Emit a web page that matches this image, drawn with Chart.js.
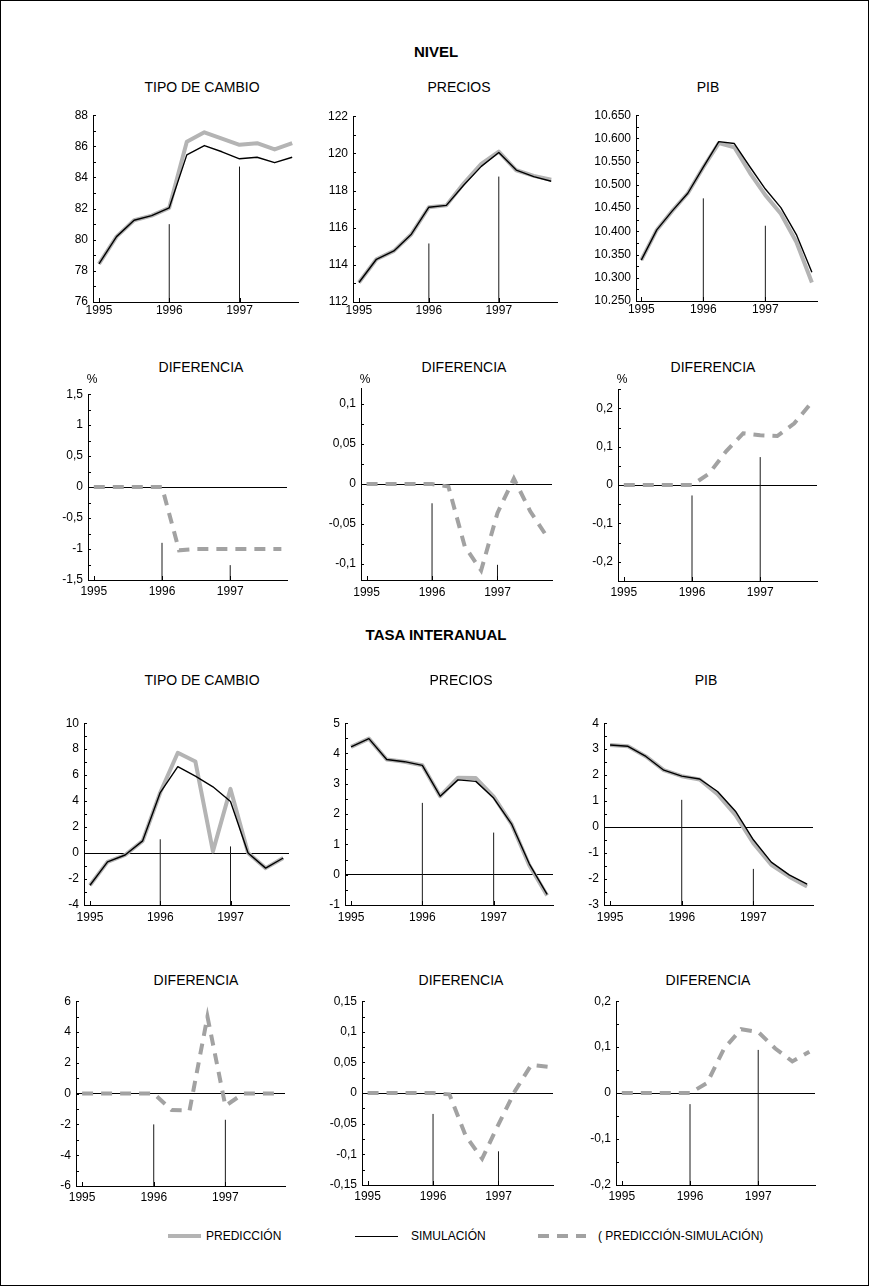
<!DOCTYPE html>
<html lang="es">
<head>
<meta charset="utf-8">
<script src="https://cdn.jsdelivr.net/npm/chart.js@4.4.1/dist/chart.umd.min.js"></script>
<style>
html,body{margin:0;padding:0;background:#fff;}
#hoja{position:relative;width:869px;height:1286px;overflow:hidden;background:#fff;
  font-family:"Liberation Sans",Arial,Helvetica,sans-serif;color:#000;}
#marco{position:absolute;left:0;top:0;width:869px;height:1286px;box-sizing:border-box;border:1px solid #000;pointer-events:none;}
.txt{position:absolute;transform:translate(-50%,-50%);white-space:nowrap;line-height:1;}
.izq{position:absolute;transform:translate(0,-50%);white-space:nowrap;line-height:1;font-size:12px;}
.tit{font-size:14px;}
.sec{font-size:15px;font-weight:bold;}
.pct{font-size:12px;}
canvas{position:absolute;}
.raya{position:absolute;}
</style>
</head>
<body>
<div id="hoja"><div id="marco"></div></div>
<script>
// Trimestres 1995-I a 1997-IV (posición 0..11 en el eje horizontal)
const trimestres = ['1995-I','1995-II','1995-III','1995-IV','1996-I','1996-II','1996-III','1996-IV','1997-I','1997-II','1997-III','1997-IV'];
const anios = ['1995','1996','1997'];
const posAnios = [0, 4, 8];

// ---- NIVEL ----
const tcNivelPred  = [78.45, 80.2, 81.25, 81.55, 82.05, 86.3, 86.9, 86.5, 86.1, 86.2, 85.8, 86.2];
const tcNivelSim   = [78.45, 80.2, 81.25, 81.55, 82.05, 85.45, 86.05, 85.65, 85.2, 85.3, 84.95, 85.3];
const preNivelPred = [113.05, 114.3, 114.75, 115.65, 117.1, 117.2, 118.39, 119.43, 120.09, 119.09, 118.79, 118.58];
const preNivelSim  = [113.05, 114.3, 114.75, 115.65, 117.1, 117.2, 118.3, 119.3, 120.05, 119.1, 118.75, 118.5];
const pibNivelPred = [10338, 10403, 10444, 10482, 10538, 10590, 10581, 10526, 10478, 10438, 10377, 10290];
const pibNivelSim  = [10338, 10403, 10444, 10482, 10538, 10593, 10589, 10539, 10491, 10451, 10393, 10312];
const tcNivelDif   = [0, 0, 0, 0, 0, -1.02, -1.0, -1.0, -1.0, -1.0, -1.0, -1.0];
const preNivelDif  = [0, 0, 0, 0, 0, -0.003, -0.078, -0.108, -0.036, 0.007, -0.034, -0.065];
const pibNivelDif  = [0, 0, 0, 0, 0, 0.03, 0.088, 0.135, 0.13, 0.128, 0.161, 0.215];

// ---- TASA INTERANUAL ----
const tcTasaPred  = [-2.48, -0.68, -0.15, 0.94, 4.66, 7.72, 7.05, 0.13, 4.94, 0.0, -1.16, -0.38];
const tcTasaSim   = [-2.48, -0.68, -0.15, 0.94, 4.66, 6.65, 5.92, 5.1, 3.97, 0.0, -1.16, -0.38];
const preTasaPred = [4.22, 4.49, 3.8, 3.73, 3.61, 2.59, 3.2, 3.19, 2.58, 1.68, 0.31, -0.69];
const preTasaSim  = [4.22, 4.49, 3.8, 3.73, 3.61, 2.59, 3.13, 3.08, 2.53, 1.68, 0.36, -0.65];
const pibTasaPred = [3.16, 3.11, 2.72, 2.19, 1.96, 1.83, 1.27, 0.47, -0.62, -1.45, -1.91, -2.29];
const pibTasaSim  = [3.16, 3.11, 2.72, 2.19, 1.96, 1.85, 1.37, 0.61, -0.49, -1.35, -1.84, -2.2];
const tcTasaDif   = [0, 0, 0, 0, 0, -1.07, -1.1, 5.0, -0.8, 0, 0, 0];
const preTasaDif  = [0, 0, 0, 0, 0, -0.002, -0.07, -0.107, -0.051, 0.003, 0.046, 0.043];
const pibTasaDif  = [0, 0, 0, 0, 0, 0.022, 0.097, 0.139, 0.133, 0.097, 0.069, 0.09];

// Marcas verticales en 1996 y 1997 (altura alcanzada)
const tcNivelMarcas     = [81.0, 84.7];
const preNivelMarcas    = [115.15, 118.75];
const pibNivelMarcas    = [10471, 10412];
const tcNivelDifMarcas  = [-0.9, -1.26];
const preNivelDifMarcas = [-0.024, -0.101];
const pibNivelDifMarcas = [-0.027, 0.073];
const tcTasaMarcas      = [1.06, 0.51];
const preTasaMarcas     = [2.37, 1.39];
const pibTasaMarcas     = [1.05, -1.61];
const tcTasaDifMarcas   = [-2.0, -1.7];
const preTasaDifMarcas  = [-0.034, -0.095];
const pibTasaDifMarcas  = [-0.024, 0.094];

// Valores rotulados de cada eje vertical
const ejeTcNivel     = [76, 78, 80, 82, 84, 86, 88];
const ejePreNivel    = [112, 114, 116, 118, 120, 122];
const ejePibNivel    = [10250, 10300, 10350, 10400, 10450, 10500, 10550, 10600, 10650];
const ejeTcNivelDif  = [-1.5, -1, -0.5, 0, 0.5, 1, 1.5];
const ejePreNivelDif = [-0.1, -0.05, 0, 0.05, 0.1];
const ejePibNivelDif = [-0.2, -0.1, 0, 0.1, 0.2];
const ejeTcTasa      = [-4, -2, 0, 2, 4, 6, 8, 10];
const ejePreTasa     = [-1, 0, 1, 2, 3, 4, 5];
const ejePibTasa     = [-3, -2, -1, 0, 1, 2, 3, 4];
const ejeTcTasaDif   = [-6, -4, -2, 0, 2, 4, 6];
const ejePreTasaDif  = [-0.15, -0.1, -0.05, 0, 0.05, 0.1, 0.15];
const ejePibTasaDif  = [-0.2, -0.1, 0, 0.1, 0.2];

// ---------------------------------------------------------------
const XMIN = -0.34, XMAX = 11.33;
const PL = 48, PT = 10, PR = 10, PB = 26;
const GRIS = '#b4b4b4', GRIS_DIF = '#a2a2a2';

const fmtDec = v => { const r = Math.round(v * 1000) / 1000; return (r === 0 ? 0 : r).toString().replace('.', ','); };
const fmtMiles = v => (v / 1000).toFixed(3);

const paneles = [
  { caja: [93, 113, 298, 302], min: 76, max: 88, eje: ejeTcNivel, fmt: fmtDec, pred: tcNivelPred, sim: tcNivelSim, marcas: tcNivelMarcas, cero: false, padX: 1 },
  { caja: [353, 114, 557, 302], min: 112, max: 122, eje: ejePreNivel, fmt: fmtDec, pred: preNivelPred, sim: preNivelSim, marcas: preNivelMarcas, cero: false, padX: 1 },
  { caja: [636, 113, 817, 301], min: 10250, max: 10650, eje: ejePibNivel, fmt: fmtMiles, pred: pibNivelPred, sim: pibNivelSim, marcas: pibNivelMarcas, cero: false, padX: 1 },
  { caja: [88, 392, 287, 580], min: -1.5, max: 1.5, eje: ejeTcNivelDif, fmt: fmtDec, dif: tcNivelDif, marcas: tcNivelDifMarcas, cero: true, padX: 4 },
  { caja: [361, 386, 552, 580], min: -0.12, max: 0.12, eje: ejePreNivelDif, fmt: fmtDec, dif: preNivelDif, marcas: preNivelDifMarcas, cero: true, padX: 5 },
  { caja: [618, 387, 817, 581], min: -0.25, max: 0.25, eje: ejePibNivelDif, fmt: fmtDec, dif: pibNivelDif, marcas: pibNivelDifMarcas, cero: true, padX: 4 },
  { caja: [84, 721, 289, 905], min: -4, max: 10, eje: ejeTcTasa, fmt: fmtDec, pred: tcTasaPred, sim: tcTasaSim, marcas: tcTasaMarcas, cero: true, padX: 5 },
  { caja: [345, 721, 553, 905], min: -1, max: 5, eje: ejePreTasa, fmt: fmtDec, pred: preTasaPred, sim: preTasaSim, marcas: preTasaMarcas, cero: true, padX: 5 },
  { caja: [604, 721, 813, 905], min: -3, max: 4, eje: ejePibTasa, fmt: fmtDec, pred: pibTasaPred, sim: pibTasaSim, marcas: pibTasaMarcas, cero: true, padX: 5 },
  { caja: [76, 999, 285, 1186], min: -6, max: 6, eje: ejeTcTasaDif, fmt: fmtDec, dif: tcTasaDif, marcas: tcTasaDifMarcas, cero: true, padX: 4 },
  { caja: [362, 999, 553, 1185], min: -0.15, max: 0.15, eje: ejePreTasaDif, fmt: fmtDec, dif: preTasaDif, marcas: preTasaDifMarcas, cero: true, padX: 4 },
  { caja: [616, 999, 815, 1185], min: -0.2, max: 0.2, eje: ejePibTasaDif, fmt: fmtDec, dif: pibTasaDif, marcas: pibTasaDifMarcas, cero: true, padX: 4 }
];

// Pequeñas marcas de escala hacia el interior del área de trazado
const marcasEje = {
  id: 'marcasEje',
  afterDraw(chart) {
    const { ctx, chartArea: a, scales: { x, y } } = chart;
    ctx.save();
    ctx.strokeStyle = '#000';
    ctx.lineWidth = 1;
    ctx.beginPath();
    y.ticks.forEach(t => {
      const py = Math.round(y.getPixelForValue(t.value)) + 0.5;
      ctx.moveTo(a.left, py); ctx.lineTo(a.left + 3, py);
    });
    x.ticks.forEach(t => {
      const px = Math.round(x.getPixelForValue(t.value)) + 0.5;
      ctx.moveTo(px, a.bottom); ctx.lineTo(px, a.bottom - 4);
    });
    ctx.stroke();
    ctx.restore();
  }
};

const hoja = document.getElementById('hoja');
Chart.defaults.font.family = '"Liberation Sans", Arial, Helvetica, sans-serif';
Chart.defaults.color = '#000';

const aPuntos = arr => arr.map((v, i) => ({ x: i, y: v }));

paneles.forEach(p => {
  const [L, T, R, B] = p.caja;
  const cv = document.createElement('canvas');
  const w = R - L + PL + PR, h = B - T + PT + PB;
  cv.width = w; cv.height = h;
  cv.style.left = (L - PL) + 'px';
  cv.style.top = (T - PT) + 'px';
  cv.style.width = w + 'px';
  cv.style.height = h + 'px';
  hoja.appendChild(cv);

  const datasets = [];
  if (p.sim) {
    datasets.push({ data: aPuntos(p.sim), borderColor: '#000', borderWidth: 1.4, pointRadius: 0, tension: 0, borderJoinStyle: 'round', order: 1 });
    datasets.push({ data: aPuntos(p.pred), borderColor: GRIS, borderWidth: 4, pointRadius: 0, tension: 0, borderJoinStyle: 'round', order: 2 });
  }
  if (p.dif) {
    datasets.push({ data: aPuntos(p.dif), borderColor: GRIS_DIF, borderWidth: 4, borderDash: [11, 8], borderCapStyle: 'butt', pointRadius: 0, tension: 0, order: 2 });
  }
  p.marcas.forEach((m, k) => {
    datasets.push({ data: [{ x: posAnios[k + 1], y: p.min }, { x: posAnios[k + 1], y: m }], borderColor: '#1a1a1a', borderWidth: 1, pointRadius: 0, order: 3 });
  });

  // marcas menores: puntos medios entre valores rotulados
  const paso = p.eje[1] - p.eje[0];
  const menores = [];
  for (let i = 0; i < p.eje.length - 1; i++) menores.push((p.eje[i] + p.eje[i + 1]) / 2);
  const extA = p.eje[0] - paso / 2, extB = p.eje[p.eje.length - 1] + paso / 2;
  if (extA >= p.min - 1e-9) menores.push(extA);
  if (extB <= p.max + 1e-9) menores.push(extB);
  const todos = p.eje.concat(menores).sort((a, b) => a - b);
  const rotulado = v => p.eje.some(m => Math.abs(m - v) < 1e-9);

  new Chart(cv, {
    type: 'line',
    data: { datasets },
    options: {
      responsive: false,
      animation: false,
      devicePixelRatio: 1,
      events: [],
      layout: { padding: { top: PT, right: PR, left: 0, bottom: 0 } },
      plugins: { legend: { display: false }, tooltip: { enabled: false } },
      scales: {
        x: {
          type: 'linear', min: XMIN, max: XMAX,
          afterBuildTicks: s => { s.ticks = posAnios.map(v => ({ value: v })); },
          afterFit: s => { s.height = PB; },
          ticks: { autoSkip: false, maxRotation: 0, padding: p.padX, font: { size: 12 }, callback: (v, i) => anios[i] },
          grid: { display: false, drawTicks: false },
          border: { display: true, color: '#000', width: 1 }
        },
        y: {
          type: 'linear', min: p.min, max: p.max,
          afterBuildTicks: s => { s.ticks = todos.map(v => ({ value: v })); },
          afterFit: s => { s.width = PL; },
          ticks: { autoSkip: false, padding: 5, font: { size: 12 }, callback: v => rotulado(v) ? p.fmt(v) : '' },
          grid: {
            display: true, drawTicks: false, drawOnChartArea: true, lineWidth: 1,
            color: c => (p.cero && c.tick && Math.abs(c.tick.value) < 1e-9) ? '#000' : 'rgba(0,0,0,0)'
          },
          border: { display: true, color: '#000', width: 1 }
        }
      }
    },
    plugins: [marcasEje]
  });
});

// Rótulos
function rotulo(texto, x, y, clase) {
  const d = document.createElement('div');
  d.className = 'txt ' + clase;
  d.style.left = x + 'px';
  d.style.top = y + 'px';
  d.textContent = texto;
  hoja.appendChild(d);
}
rotulo('NIVEL', 436, 51, 'sec');
rotulo('TIPO DE CAMBIO', 202, 87, 'tit');
rotulo('PRECIOS', 459, 87, 'tit');
rotulo('PIB', 708, 87, 'tit');
rotulo('DIFERENCIA', 201, 367, 'tit');
rotulo('DIFERENCIA', 464, 367, 'tit');
rotulo('DIFERENCIA', 713, 367, 'tit');
rotulo('%', 92, 379, 'pct');
rotulo('%', 365, 379, 'pct');
rotulo('%', 622, 379, 'pct');
rotulo('TASA INTERANUAL', 436, 634, 'sec');
rotulo('TIPO DE CAMBIO', 202, 680, 'tit');
rotulo('PRECIOS', 461, 680, 'tit');
rotulo('PIB', 706, 680, 'tit');
rotulo('DIFERENCIA', 196, 980, 'tit');
rotulo('DIFERENCIA', 461, 980, 'tit');
rotulo('DIFERENCIA', 708, 980, 'tit');

// Leyenda
function raya(x, y, w, h, fondo) {
  const d = document.createElement('div');
  d.className = 'raya';
  d.style.left = x + 'px'; d.style.top = y + 'px';
  d.style.width = w + 'px'; d.style.height = h + 'px';
  d.style.background = fondo;
  hoja.appendChild(d);
}
function textoLey(texto, x, y) {
  const d = document.createElement('div');
  d.className = 'izq';
  d.style.left = x + 'px'; d.style.top = y + 'px';
  d.textContent = texto;
  hoja.appendChild(d);
}
raya(168, 1234, 33, 4, GRIS);
textoLey('PREDICCIÓN', 206, 1236);
raya(355, 1236, 43, 1, '#000');
textoLey('SIMULACIÓN', 411, 1236);
raya(538, 1234, 48, 4, 'repeating-linear-gradient(to right,' + GRIS_DIF + ' 0 11px, transparent 11px 19px)');
textoLey('( PREDICCIÓN-SIMULACIÓN)', 598, 1236);
</script>
</body>
</html>
